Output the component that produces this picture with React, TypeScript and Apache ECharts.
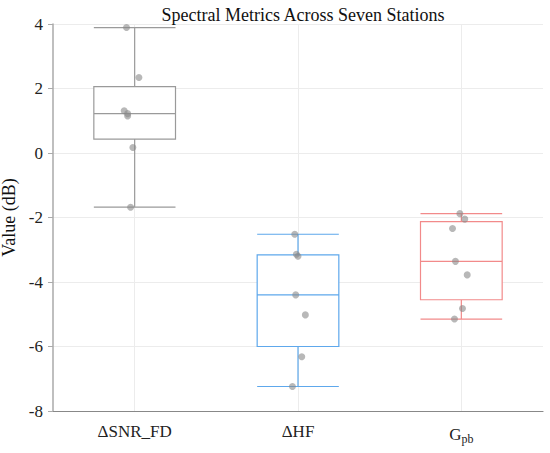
import React, { useEffect, useRef } from "react";
import * as echarts from "echarts";

const categories = ["ΔSNR_FD", "ΔHF", "Gpb"];
// box stats: [min, Q1, median, Q3, max]
const boxSNR = [-1.68, 0.43, 1.22, 2.06, 3.89];
const boxHF = [-7.24, -6.0, -4.4, -3.16, -2.52];
const boxGpb = [-5.15, -4.55, -3.36, -2.13, -1.88];
// station values
const ptsSNR = [3.89, 2.34, 1.31, 1.22, 1.15, 0.17, -1.68];
const ptsHF = [-2.52, -3.14, -3.2, -4.4, -5.02, -6.32, -7.24];
const ptsGpb = [-1.88, -2.05, -2.34, -3.36, -3.78, -4.82, -5.15];
// horizontal jitter of the points (category units)
const jitSNR = [-0.05, 0.026, -0.064, -0.043, -0.043, -0.011, -0.025];
const jitHF = [-0.02, -0.01, 0.0, -0.014, 0.045, 0.023, -0.034];
const jitGpb = [-0.009, 0.021, -0.054, -0.036, 0.036, 0.007, -0.042];
const categoryCenters = [0, 1, 2];

const boxColors = ["#9a9a9a", "#5ea8ec", "#f28a8a"];
const FONT = "Liberation Serif, DejaVu Serif, serif";

export default function App() {
  const ref = useRef<HTMLDivElement>(null);
  useEffect(() => {
    if (!ref.current) return;
    document.body.style.margin = "0";
    const chart = echarts.init(ref.current, undefined, { renderer: "svg" });
    const boxes = [boxSNR, boxHF, boxGpb];
    const pts = [ptsSNR, ptsHF, ptsGpb];
    const jit = [jitSNR, jitHF, jitGpb];
    const scatterData: number[][] = [];
    pts.forEach((arr, ci) => arr.forEach((v, i) => scatterData.push([ci + jit[ci][i], v])));
    const labelRich = {
      t: { fontFamily: FONT, fontSize: 17, color: "#222" },
      s: { fontFamily: FONT, fontSize: 12, color: "#222", padding: [10, 0, 0, 0] },
    };
    chart.setOption({
      animation: false,
      backgroundColor: "#fff",
      textStyle: { fontFamily: FONT },
      title: {
        text: "Spectral Metrics Across Seven Stations",
        left: 298,
        top: 1,
        textAlign: "center",
        textStyle: { fontFamily: FONT, fontSize: 18, fontWeight: "normal", color: "#111" },
      },
      grid: { left: 53, right: 7, top: 24, bottom: 42, containLabel: false, outerBoundsMode: "none" },
      xAxis: [
        {
          type: "category",
          data: categories,
          boundaryGap: true,
          axisLine: { onZero: false, lineStyle: { color: "#888", width: 1.2 } },
          axisTick: { alignWithLabel: true, length: 5, lineStyle: { color: "#999" } },
          splitLine: { show: false },
          axisLabel: {
            fontFamily: FONT,
            fontSize: 17,
            color: "#222",
            margin: 12,
            formatter: (v: string) => (v === "Gpb" ? "{t|G}{s|pb}" : `{t|${v}}`),
            rich: labelRich,
          },
        },
        {
          type: "value",
          min: -0.5,
          max: 2.5,
          show: false,
          splitLine: { show: false },
        },
      ],
      yAxis: {
        type: "value",
        min: -8,
        max: 4,
        interval: 2,
        name: "Value (dB)",
        nameLocation: "middle",
        nameGap: 22,
        nameTextStyle: { fontFamily: FONT, fontSize: 18, color: "#111" },
        axisLine: { show: true, onZero: false, lineStyle: { color: "#aaa", width: 1.5 } },
        axisTick: { show: true, length: 5, lineStyle: { color: "#aaa" } },
        axisLabel: {
          fontFamily: FONT,
          fontSize: 17,
          color: "#222",
          margin: 10,
          formatter: (v: number) => `{t|${v}}`,
          rich: labelRich,
        },
        splitLine: { lineStyle: { color: "#ececec" } },
      },
      series: [
        {
          type: "scatter",
          xAxisIndex: 1,
          data: [],
          z: 1,
          markLine: {
            silent: true,
            z: 1,
            symbol: "none",
            label: { show: false },
            lineStyle: { color: "#ececec", type: "solid", width: 1 },
            data: categoryCenters.map((c) => ({ xAxis: c })),
          },
        },
        {
          type: "boxplot",
          xAxisIndex: 0,
          boxWidth: ["50%", "50%"],
          data: boxes.map((b, i) => ({
            value: b,
            itemStyle: { color: "#fff", borderColor: boxColors[i], borderWidth: 1.2 },
          })),
          z: 2,
        },
        {
          type: "scatter",
          xAxisIndex: 1,
          data: scatterData,
          symbolSize: 7,
          itemStyle: { color: "#888", opacity: 0.6 },
          z: 3,
        },
      ],
    });
    return () => chart.dispose();
  }, []);
  return <div ref={ref} style={{ width: 550, height: 453 }} />;
}
